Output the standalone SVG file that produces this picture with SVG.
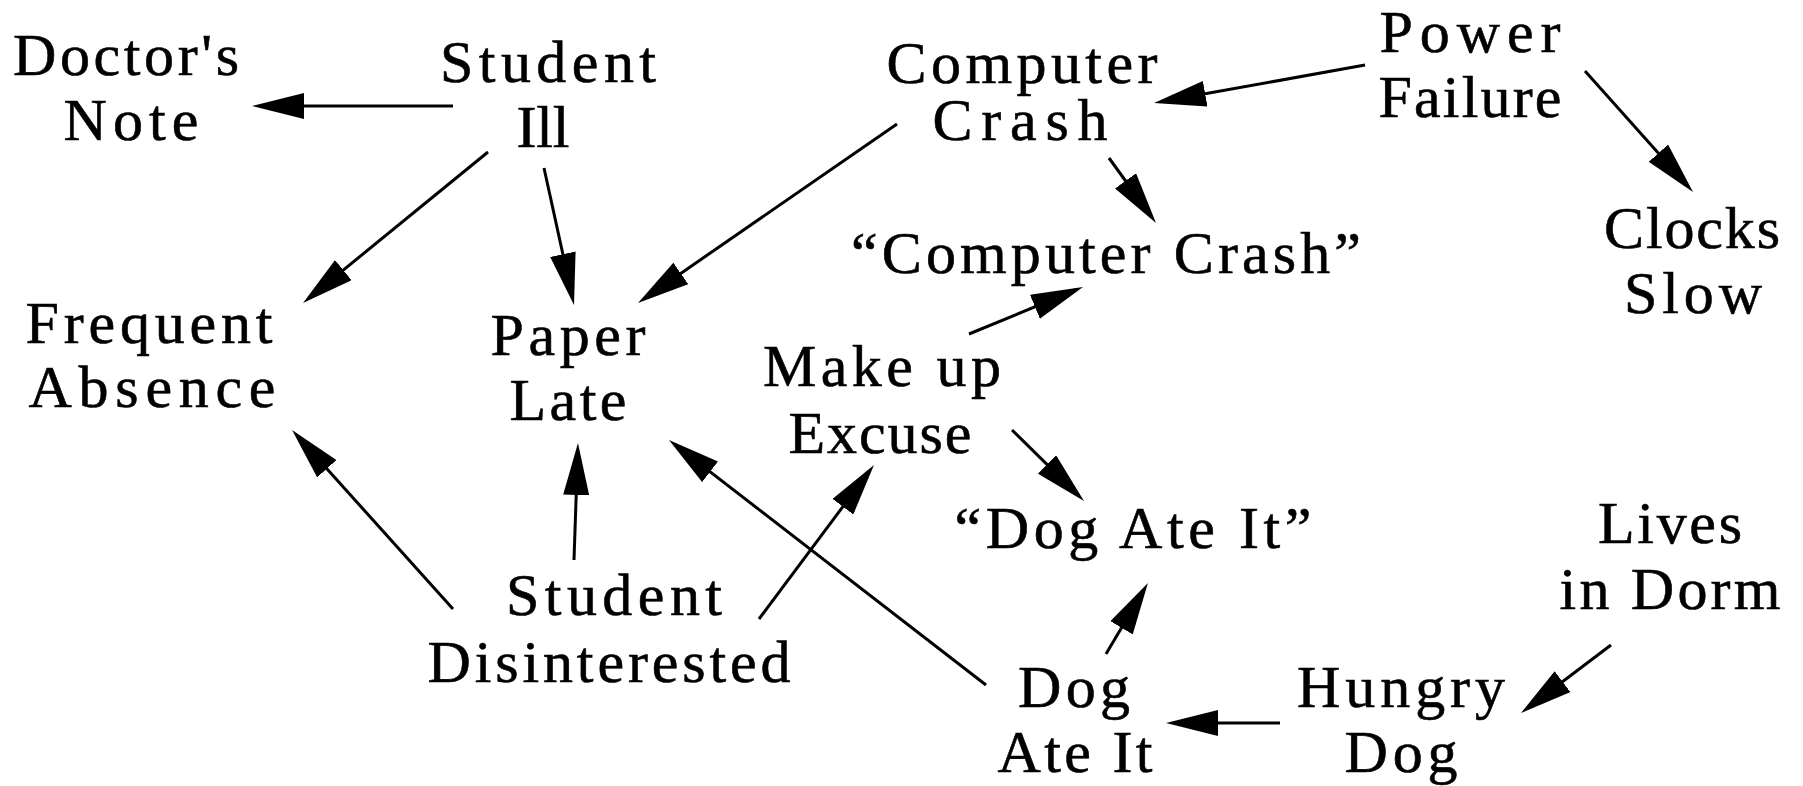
<svg xmlns="http://www.w3.org/2000/svg" width="1803" height="786" viewBox="0 0 1803 786">
<style>
text{font-family:"Liberation Serif","Times New Roman",serif;font-size:60px;fill:#000;stroke:#000;stroke-width:0.6px;text-anchor:middle}
.c line{stroke:#000;stroke-width:3;fill:none;marker-end:url(#ah)}
</style>
<defs>
<marker id="ah" viewBox="0 0 52 26" refX="44" refY="13" markerWidth="52" markerHeight="26" markerUnits="userSpaceOnUse" orient="auto">
<path d="M0,0 L52,13 L0,26 z" fill="#000"/>
</marker>
</defs>
<rect width="1803" height="786" fill="#fff"/>
<g id="doctors-note"><text x="126" y="75" textLength="226" lengthAdjust="spacing">Doctor's</text><text x="131" y="140" textLength="135" lengthAdjust="spacing">Note</text></g>
<g id="student-ill"><text x="548" y="82" textLength="216" lengthAdjust="spacing">Student</text><text x="543" y="147" textLength="53" lengthAdjust="spacing">Ill</text></g>
<g id="computer-crash"><text x="1022" y="83" textLength="271" lengthAdjust="spacing">Computer</text><text x="1020" y="140" textLength="175" lengthAdjust="spacing">Crash</text></g>
<g id="power-failure"><text x="1470" y="52" textLength="181" lengthAdjust="spacing">Power</text><text x="1470" y="117" textLength="183" lengthAdjust="spacing">Failure</text></g>
<g id="computer-crash-excuse"><text x="1106" y="273" textLength="510" lengthAdjust="spacing">“Computer Crash”</text></g>
<g id="clocks-slow"><text x="1692" y="248" textLength="176" lengthAdjust="spacing">Clocks</text><text x="1693" y="313" textLength="138" lengthAdjust="spacing">Slow</text></g>
<g id="frequent-absence"><text x="149" y="343" textLength="247" lengthAdjust="spacing">Frequent</text><text x="152" y="407" textLength="247" lengthAdjust="spacing">Absence</text></g>
<g id="paper-late"><text x="568" y="355" textLength="155" lengthAdjust="spacing">Paper</text><text x="568" y="420" textLength="117" lengthAdjust="spacing">Late</text></g>
<g id="make-up-excuse"><text x="882" y="386" textLength="238" lengthAdjust="spacing">Make up</text><text x="880" y="453" textLength="183" lengthAdjust="spacing">Excuse</text></g>
<g id="dog-ate-it-excuse"><text x="1133" y="548" textLength="357" lengthAdjust="spacing">“Dog Ate It”</text></g>
<g id="student-disinterested"><text x="614" y="615" textLength="216" lengthAdjust="spacing">Student</text><text x="609" y="682" textLength="363" lengthAdjust="spacing">Disinterested</text></g>
<g id="lives-in-dorm"><text x="1670" y="543" textLength="144" lengthAdjust="spacing">Lives</text><text x="1670" y="609" textLength="221" lengthAdjust="spacing">in Dorm</text></g>
<g id="dog-ate-it"><text x="1074" y="707" textLength="112" lengthAdjust="spacing">Dog</text><text x="1075" y="772" textLength="155" lengthAdjust="spacing">Ate It</text></g>
<g id="hungry-dog"><text x="1401" y="707" textLength="208" lengthAdjust="spacing">Hungry</text><text x="1401" y="772" textLength="113" lengthAdjust="spacing">Dog</text></g>
<g id="connectors" class="c">
<line x1="453" y1="106" x2="260" y2="106"/>
<line x1="488" y1="152" x2="309.2" y2="297.9"/>
<line x1="544" y1="168" x2="572.3" y2="297.2"/>
<line x1="897" y1="124" x2="644.6" y2="298.4"/>
<line x1="1365" y1="65" x2="1161.9" y2="101.6"/>
<line x1="1585" y1="71" x2="1687.7" y2="186"/>
<line x1="1109" y1="158" x2="1151.3" y2="216.5"/>
<line x1="969" y1="334" x2="1075.6" y2="290"/>
<line x1="1012" y1="430" x2="1078.3" y2="495.4"/>
<line x1="453" y1="609" x2="297.4" y2="436"/>
<line x1="574" y1="560" x2="577.7" y2="451"/>
<line x1="986" y1="685" x2="675.3" y2="444.9"/>
<line x1="759" y1="619" x2="869.2" y2="471.4"/>
<line x1="1106" y1="654" x2="1143.9" y2="589.9"/>
<line x1="1280" y1="723" x2="1174" y2="723"/>
<line x1="1611" y1="645" x2="1527.4" y2="708.2"/>
</g>
</svg>
